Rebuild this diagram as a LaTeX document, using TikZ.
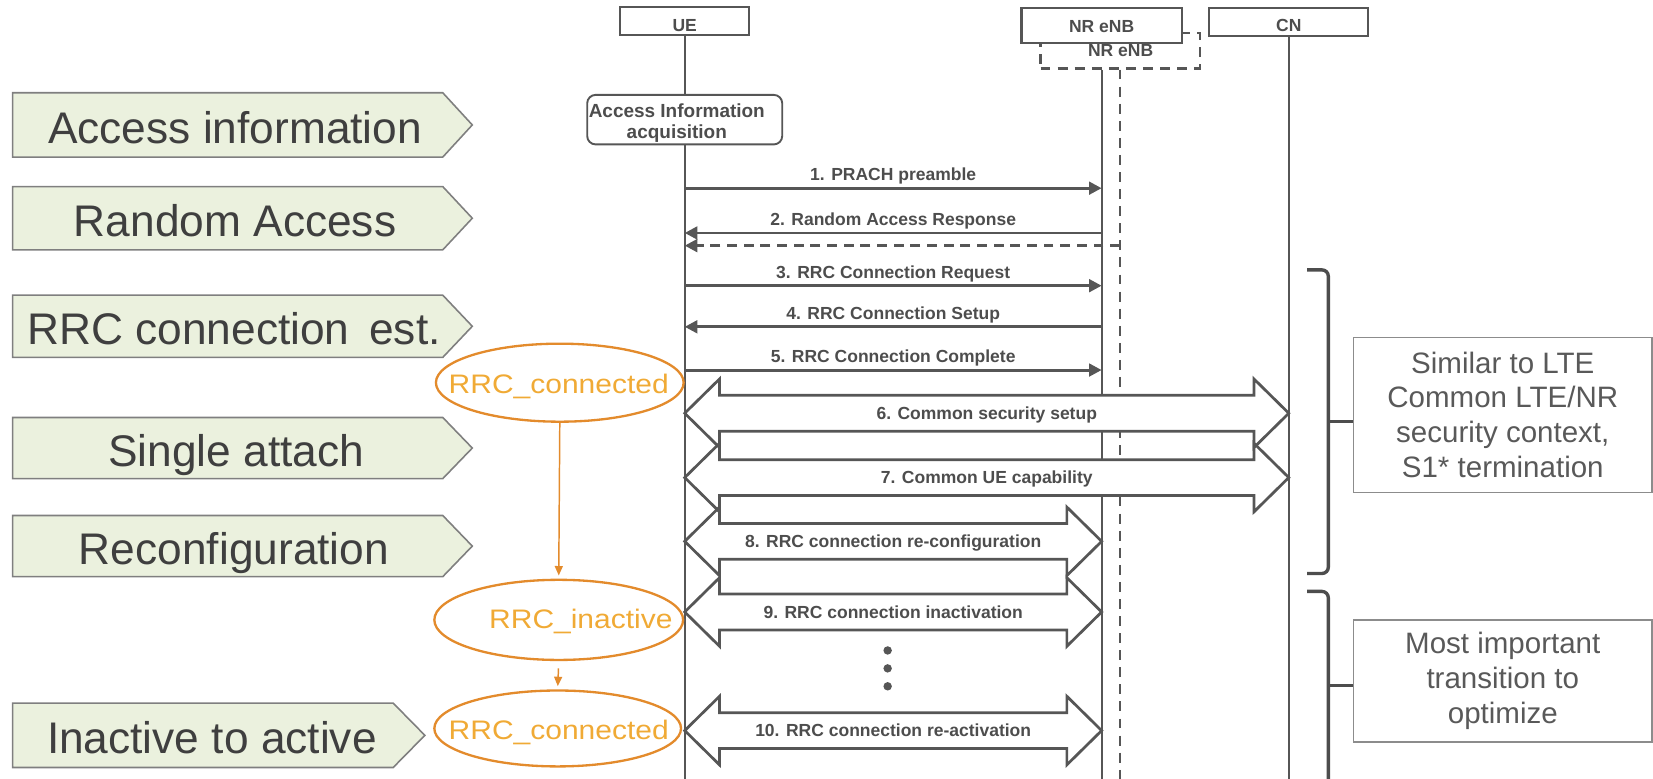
\documentclass[tikz,border=0pt]{standalone}
\usepackage{fontspec}
\setmainfont{Liberation Sans}
\newfontfamily\statefont[FakeStretch=1.12]{Liberation Sans}
\usetikzlibrary{arrows.meta,calc,shapes.geometric}

\definecolor{ink}{HTML}{565656}
\definecolor{msgtext}{HTML}{4D4D4D}
\definecolor{phasefillc}{HTML}{EBF1DE}
\definecolor{phaseline}{HTML}{7F7F7F}
\definecolor{phasetextc}{HTML}{3F3F3F}
\definecolor{orangeline}{HTML}{E38B2C}
\definecolor{orangetext}{HTML}{F0AA35}
\definecolor{notegray}{HTML}{8C8C8C}
\definecolor{notetext}{HTML}{595959}
\definecolor{bracec}{HTML}{4D4D4D}

\pgfdeclarelayer{lifelines}
\pgfdeclarelayer{arrowfill}
\pgfsetlayers{lifelines,arrowfill,main}

\tikzset{
  hdr/.style={draw=ink,line width=1pt,fill=white,inner sep=0pt},
  hdrtxt/.style={font=\fontsize{8.3}{10}\selectfont\bfseries,text=msgtext,inner sep=0pt,anchor=base},
  life/.style={draw=ink,line width=0.8pt},
  dashlife/.style={draw=ink,line width=0.9pt,dash pattern=on 4.7pt off 3.4pt},
  msg/.style={draw=ink,line width=1.4pt,-{Triangle[length=6pt,width=6pt]}},
  msgtxt/.style={font=\fontsize{8.3}{10}\selectfont\bfseries,text=msgtext,inner sep=0pt,anchor=base},
  blockline/.style={draw=ink,line width=1.3pt,line join=miter},
  phasebox/.style={draw=phaseline,line width=0.75pt,fill=phasefillc},
  phasetxt/.style={font=\fontsize{21}{25}\selectfont,text=phasetextc,inner sep=0pt,anchor=base},
  stateshape/.style={ellipse,draw=orangeline,line width=1.1pt,inner sep=0pt},
  statetxt/.style={font=\statefont\fontsize{12.7}{15}\selectfont,text=orangetext,inner sep=0pt,anchor=base},
  statearrow/.style={draw=orangeline,line width=0.7pt,-{Triangle[length=4.5pt,width=3.8pt]}},
  note/.style={draw=notegray,line width=0.65pt,inner sep=0pt,align=center,
    font=\fontsize{14}{16.5}\selectfont,text=notetext},
  brace/.style={draw=bracec,line width=1.6pt,rounded corners=3pt},
  dotc/.style={circle,fill=ink,inner sep=0pt,minimum size=4pt},
}

% hollow double-headed message between two lifelines
\newcommand{\bigmsg}[5]{%
  \coordinate (#1) at (0,#2);
  \begin{pgfonlayer}{arrowfill}
    \fill[white] (#3 |- #1) -- ++(33,-32.5) -- ++(0,15.5) -- ($(#4 |- #1)+(-33,-17)$) -- ++(0,-15.5)
      -- (#4 |- #1) -- ++(-33,32.5) -- ++(0,-15.5) -- ($(#3 |- #1)+(33,17)$) -- ++(0,15.5) -- cycle;
  \end{pgfonlayer}
  \draw[blockline] (#3 |- #1) -- ++(33,-32.5) -- ++(0,15.5) -- ($(#4 |- #1)+(-33,-17)$) -- ++(0,-15.5)
      -- (#4 |- #1) -- ++(-33,32.5) -- ++(0,-15.5) -- ($(#3 |- #1)+(33,17)$) -- ++(0,15.5) -- cycle;
  \node[msgtxt] (#1-label) at ($(#3 |- #1)!0.5!(#4 |- #1)+(0,6)$) {#5};
}

% green phase tag: name, top, bottom, body right, tip, text x, text
\newcommand{\phase}[7]{%
  \draw[phasebox] (12,#2) -- (#4,#2) -- (#5,{(#2+#3)/2}) -- (#4,#3) -- (12,#3) -- cycle;
  \node[phasetxt] (#1) at (#6,{(#2+#3)/2+17.5}) {#7};
}

\begin{document}
\begin{tikzpicture}[x=0.5pt,y=-0.5pt]
\useasboundingbox (0,0) rectangle (1568,738);
\coordinate (bottom) at (0,742);

% ---- phase tags
\phase{ph1}{88}{149}{420}{448}{223}{Access information}
\phase{ph2}{177}{237}{420}{448}{223}{Random Access}
\phase{ph3}{280}{339}{420}{448}{222}{RRC connection\, est.}
\phase{ph4}{396}{454}{420}{448}{224}{Single attach}
\phase{ph5}{489}{547}{420}{448}{222}{Reconfiguration}
\phase{ph6}{667}{728}{373}{403}{201}{Inactive to active}

% ---- entity headers
\node[hdr,dash pattern=on 4.7pt off 3.4pt,minimum width=75.5pt,minimum height=17pt,fill=none] (nr2) at (1062.5,48) {};
\node[hdrtxt] (nr2txt) at (1063,54) {NR eNB};
\node[hdr,minimum width=61pt,minimum height=13pt] (ue) at (649.5,20) {};
\node[hdrtxt] (uetxt) at (649.5,30) {UE};
\node[hdr,minimum width=76pt,minimum height=16.5pt] (nr) at (1045,24.5) {};
\node[hdrtxt] (nrtxt) at (1045,31) {NR eNB};
\node[hdr,minimum width=75.5pt,minimum height=13pt] (cn) at (1222.5,21) {};
\node[hdrtxt] (cntxt) at (1222.5,30) {CN};

% ---- lifelines
\begin{pgfonlayer}{lifelines}
  \draw[life] (ue.south) -- (ue |- bottom);
  \draw[life] (nr |- nr2.south) -- (nr |- bottom);
  \draw[dashlife] (nr2.south) -- (nr2 |- bottom);
  \draw[life] (cn.south) -- (cn |- bottom);
\end{pgfonlayer}

% ---- access information step
\node[draw=ink,line width=0.9pt,fill=white,rounded corners=4pt,minimum width=92.5pt,minimum height=23.5pt,inner sep=0pt]
  (acq) at (649.5,113.5) {};
\node[msgtxt,font=\fontsize{9}{10}\selectfont\bfseries,align=center] (acqtxt) at (642,131)
  {Access Information\\acquisition};

% ---- plain messages
\coordinate (r1) at (0,178.5);
\coordinate (r2) at (0,221);
\coordinate (r2b) at (0,233);
\coordinate (r3) at (0,271);
\coordinate (r4) at (0,310);
\coordinate (r5) at (0,351);
\draw[msg] (ue |- r1) -- node[msgtxt,yshift=3.5pt] (m1) {1. PRACH preamble} (nr |- r1);
\draw[msg] (nr |- r2) -- node[msgtxt,yshift=3.5pt] (m2) {2. Random Access Response} (ue |- r2);
\draw[msg,dash pattern=on 4.7pt off 3.2pt] (nr2 |- r2b) -- (ue |- r2b);
\draw[msg] (ue |- r3) -- node[msgtxt,yshift=3.5pt] (m3) {3. RRC Connection Request} (nr |- r3);
\draw[msg] (nr |- r4) -- node[msgtxt,yshift=3.5pt] (m4) {4. RRC Connection Setup} (ue |- r4);
\draw[msg] (ue |- r5) -- node[msgtxt,yshift=3.5pt] (m5) {5. RRC Connection Complete} (nr |- r5);

% ---- hollow two-way messages
\bigmsg{r6}{392}{ue}{cn}{6. Common security setup}
\bigmsg{r7}{453}{ue}{cn}{7. Common UE capability}
\bigmsg{r8}{513.5}{ue}{nr}{8. RRC connection re-configuration}
\bigmsg{r9}{580.5}{ue}{nr}{9. RRC connection inactivation}
\bigmsg{r10}{693}{ue}{nr}{10. RRC connection re-activation}

\node[dotc] (dot1) at (842,617) {};
\node[dotc] (dot2) at (842,634) {};
\node[dotc] (dot3) at (842,651) {};

% ---- RRC states
\node[stateshape,minimum width=117.5pt,minimum height=37pt] (s1) at (531,363) {};
\node[statetxt] (s1t) at (530,373) {RRC\_connected};
\node[stateshape,minimum width=118pt,minimum height=38pt] (s2) at (530,588) {};
\node[statetxt] (s2t) at (551,596) {RRC\_inactive};
\node[stateshape,minimum width=117pt,minimum height=36pt] (s3) at (529,691) {};
\node[statetxt] (s3t) at (530,701) {RRC\_connected};
\draw[statearrow,shorten >=1.5pt] (s1.south) -- (s2.north);
\draw[statearrow,shorten <=3.5pt,shorten >=1.5pt] (s2.south) -- (s3.north);

% ---- notes with brackets
\node[note,minimum width=141.5pt,minimum height=73.5pt] (note1) at (1425.5,393.5)
  {Similar to LTE\\Common LTE/NR\\security context,\\S1* termination};
\node[note,minimum width=141.5pt,minimum height=58pt] (note2) at (1425.5,646)
  {Most important\\transition to\\optimize};
\draw[brace] (1240,256) -- (1260,256) -- (1260,544) -- (1240,544);
\draw[brace] (1240,561) -- (1260,561) -- (1260,760);
\draw[draw=bracec,line width=1.6pt] (1260,400) -- (note1.west |- 0,400);
\draw[draw=bracec,line width=1.6pt] (1260,650) -- (note2.west |- 0,650);
\end{tikzpicture}
\end{document}
